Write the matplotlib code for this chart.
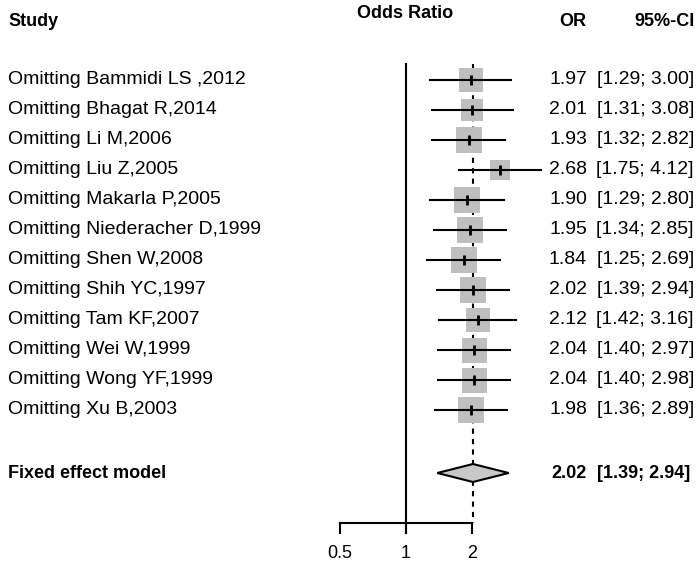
import numpy as np
import matplotlib
matplotlib.use('Agg')
import matplotlib.pyplot as plt
from matplotlib.patches import Polygon

plt.rcParams['font.family'] = ['Liberation Sans', 'DejaVu Sans']

# leave-one-out results
studies = ['Omitting Bammidi LS ,2012', 'Omitting Bhagat R,2014', 'Omitting Li M,2006',
           'Omitting Liu Z,2005', 'Omitting Makarla P,2005', 'Omitting Niederacher D,1999',
           'Omitting Shen W,2008', 'Omitting Shih YC,1997', 'Omitting Tam KF,2007',
           'Omitting Wei W,1999', 'Omitting Wong YF,1999', 'Omitting Xu B,2003']
odds = [1.97, 2.01, 1.93, 2.68, 1.90, 1.95, 1.84, 2.02, 2.12, 2.04, 2.04, 1.98]
lower = [1.29, 1.31, 1.32, 1.75, 1.29, 1.34, 1.25, 1.39, 1.42, 1.40, 1.40, 1.36]
upper = [3.00, 3.08, 2.82, 4.12, 2.80, 2.85, 2.69, 2.94, 3.16, 2.97, 2.98, 2.89]
weights = [7.8, 6.6, 9.2, 5.5, 9.2, 9.2, 9.2, 9.2, 7.8, 8.5, 8.5, 9.2]
pooled = 2.02
pooled_lo = 1.39
pooled_hi = 2.94
ticks = [0.5, 1, 2]

W, H = 700, 572
fig = plt.figure(figsize=(W / 100, H / 100), dpi=100)
ax = fig.add_axes([0, 0, 1, 1])
ax.set_xscale('log', base=2)
# pixel x -> log2 scale: x=1 at 406 px, 66 px per doubling
ax.set_xlim(2 ** ((0 - 406) / 66), 2 ** ((W - 406) / 66))
ax.set_ylim(H, 0)
ax.axis('off')

def px(p):
    return 2 ** ((p - 406) / 66)

top, step = 80, 30
rows = top + step * np.arange(len(studies))
y_fix = top + step * 13.1
y_axis = 523

# reference lines
ax.plot([1, 1], [64, y_axis + 10], color='black', lw=1.5, zorder=1)
ax.plot([pooled, pooled], [64, y_axis], color='black', lw=1.5,
        ls=(0, (2.5, 2.5)), zorder=1)

# squares, CIs and point ticks
for i in range(len(studies)):
    side = 25 * np.sqrt(weights[i] / 8.5) * 0.72
    ax.plot(odds[i], rows[i], marker='s', ms=side, color='#bfbfbf', mew=0, zorder=2)
    ax.plot([lower[i], upper[i]], [rows[i], rows[i]], color='black', lw=1.5, zorder=3)
    ax.plot(odds[i], rows[i], marker='|', ms=7.5, mew=2, color='black', zorder=4)
    ax.text(px(587), rows[i], '%.2f' % odds[i], ha='right', va='center', fontsize=14)
    ax.text(px(694), rows[i], '[%.2f; %.2f]' % (lower[i], upper[i]),
            ha='right', va='center', fontsize=14)
    ax.text(px(8), rows[i], studies[i], ha='left', va='center', fontsize=14)

# pooled diamond
dh = 9
diamond = Polygon([(pooled_lo, y_fix), (pooled, y_fix - dh), (pooled_hi, y_fix),
                   (pooled, y_fix + dh)], closed=True, facecolor='#c8c8c8',
                  edgecolor='black', lw=1.5, zorder=3)
ax.add_patch(diamond)
ax.text(px(8), y_fix, 'Fixed effect model', ha='left', va='center',
        fontsize=13, fontweight='bold')
ax.text(px(587), y_fix, '%.2f' % pooled, ha='right', va='center',
        fontsize=13, fontweight='bold')
ax.text(px(690), y_fix, '[%.2f; %.2f]' % (pooled_lo, pooled_hi), ha='right',
        va='center', fontsize=13, fontweight='bold')

# x axis
ax.plot([ticks[0], ticks[-1]], [y_axis, y_axis], color='black', lw=1.5)
for t in ticks:
    ax.plot([t, t], [y_axis, y_axis + 10], color='black', lw=1.5)
    ax.text(t, 554, '%g' % t, ha='center', va='center', fontsize=13)

# headers
ax.text(px(8), 21, 'Study', ha='left', va='center', fontsize=13, fontweight='bold')
ax.text(px(405), 14, 'Odds Ratio', ha='center', va='center', fontsize=13, fontweight='bold')
ax.text(px(586), 22, 'OR', ha='right', va='center', fontsize=13, fontweight='bold')
ax.text(px(695), 22, '95%-CI', ha='right', va='center', fontsize=13, fontweight='bold')

fig.savefig('out.png', dpi=100, facecolor='white')
